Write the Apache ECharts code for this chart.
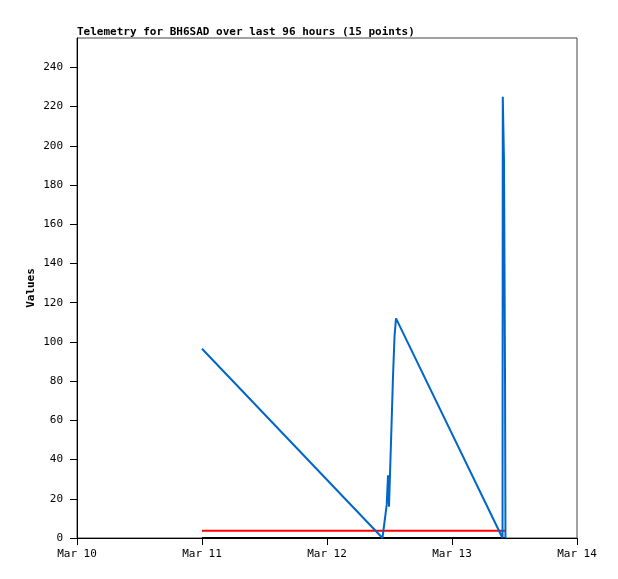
<!DOCTYPE html>
<html>
<head>
<meta charset="utf-8">
<script src="https://cdn.jsdelivr.net/npm/echarts@6/dist/echarts.min.js"></script>
<style>
  html, body { margin: 0; padding: 0; background: #fff; }
  #chart { width: 618px; height: 579px; }
</style>
</head>
<body>
<div id="chart"></div>
<script>
// times (UTC)
const times = [
  '2024-03-11T00:00', '2024-03-12T10:39', '2024-03-12T11:28', '2024-03-12T11:43',
  '2024-03-12T11:54', '2024-03-12T12:23', '2024-03-12T12:40', '2024-03-12T12:58',
  '2024-03-12T13:15', '2024-03-13T09:42', '2024-03-13T09:45', '2024-03-13T09:59',
  '2024-03-13T10:11', '2024-03-13T10:16'
]
const blueValues = [96.5, 0, 17, 32, 16, 57, 82, 103, 112, 0, 225, 192, 80, 0]
const redValues = [3.7, 3.7, 3.7, 3.7, 3.7, 3.7, 3.7, 3.7, 3.7, 3.7, 3.7, 3.7, 3.7, 3.7]
const blackValues = [0, 0, 0, 0, 0, 0, 0, 0, 0, 0, 0, 0, 0, 0]
const yTicks = [0, 20, 40, 60, 80, 100, 120, 140, 160, 180, 200, 220, 240]
const months = ['Jan', 'Feb', 'Mar', 'Apr', 'May', 'Jun', 'Jul', 'Aug', 'Sep', 'Oct', 'Nov', 'Dec']

const toTs = s => Date.parse(s + ':00Z')
const pairs = vals => times.map((t, i) => [toTs(t), vals[i]])

const mono = 'DejaVu Sans Mono'
const chart = echarts.init(document.getElementById('chart'))
chart.setOption({
  animation: false,
  useUTC: true,
  title: {
    text: 'Telemetry for BH6SAD over last 96 hours (15 points)',
    left: 72,
    top: 22,
    textStyle: { fontFamily: mono, fontSize: 11, fontWeight: 'bold', color: '#000' }
  },
  grid: {
    left: 77, right: 41, top: 38, bottom: 41,
    show: true, borderColor: '#444', borderWidth: 1, backgroundColor: '#fff'
  },
  xAxis: {
    type: 'time',
    min: toTs('2024-03-10T00:00'),
    max: toTs('2024-03-14T00:00'),
    interval: 86400000,
    axisLine: { lineStyle: { color: '#000', width: 1 } },
    axisTick: { length: 7, lineStyle: { color: '#000' } },
    axisLabel: {
      fontFamily: mono, fontSize: 11, color: '#000', margin: 11,
      showMinLabel: true, showMaxLabel: true,
      formatter: v => {
        const d = new Date(v)
        return months[d.getUTCMonth()] + ' ' + d.getUTCDate()
      }
    },
    splitLine: { show: false }
  },
  yAxis: {
    type: 'value',
    min: 0,
    max: 255,
    interval: 20,
    name: 'Values',
    nameLocation: 'middle',
    nameGap: 40,
    nameMoveOverlap: false,
    nameTextStyle: { fontFamily: mono, fontSize: 11, fontWeight: 'bold', color: '#000' },
    axisLine: { show: true, lineStyle: { color: '#000', width: 1 } },
    axisTick: { show: true, length: 7, customValues: yTicks, lineStyle: { color: '#000' } },
    axisLabel: { fontFamily: mono, fontSize: 11, color: '#000', margin: 14, customValues: yTicks },
    splitLine: { show: false }
  },
  series: [
    {
      type: 'line', data: pairs(blackValues), showSymbol: false,
      lineStyle: { color: '#000', width: 2 }, z: 3
    },
    {
      type: 'line', data: pairs(redValues), showSymbol: false,
      lineStyle: { color: '#ff0000', width: 2 }, z: 4
    },
    {
      type: 'line', data: pairs(blueValues), showSymbol: false,
      lineStyle: { color: '#0066cc', width: 2 }, z: 5
    }
  ]
})
</script>
</body>
</html>
